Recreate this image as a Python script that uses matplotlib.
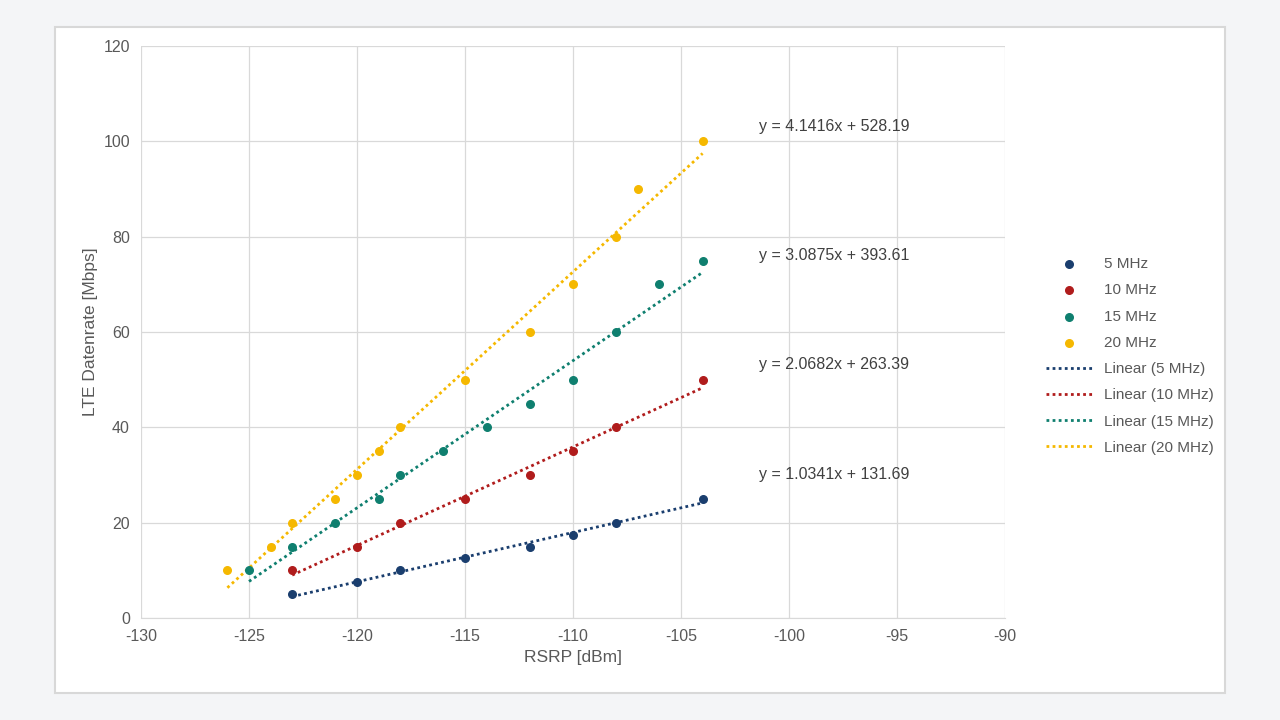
import matplotlib
matplotlib.use("Agg")
import matplotlib.pyplot as plt
import numpy as np
from matplotlib.patches import Rectangle

plt.rcParams["font.family"] = "Liberation Sans"
plt.rcParams["axes.unicode_minus"] = False

series = ["5 MHz", "10 MHz", "15 MHz", "20 MHz"]
colors = ["#1a3e6e", "#b01c1c", "#0f7f6f", "#f5b800"]
x5 = [-123, -120, -118, -115, -112, -110, -108, -104]
y5 = [5, 7.5, 10, 12.5, 15, 17.5, 20, 25]
x10 = [-123, -120, -118, -115, -112, -110, -108, -104]
y10 = [10, 15, 20, 25, 30, 35, 40, 50]
x15 = [-125, -123, -121, -119, -118, -116, -114, -112, -110, -108, -106, -104]
y15 = [10, 15, 20, 25, 30, 35, 40, 45, 50, 60, 70, 75]
x20 = [-126, -124, -123, -121, -120, -119, -118, -115, -112, -110, -108, -107, -104]
y20 = [10, 15, 20, 25, 30, 35, 40, 50, 60, 70, 80, 90, 100]
slopes = [1.0341, 2.0682, 3.0875, 4.1416]
intercepts = [131.69, 263.39, 393.61, 528.19]
eq_labels = ["y = 1.0341x + 131.69", "y = 2.0682x + 263.39",
             "y = 3.0875x + 393.61", "y = 4.1416x + 528.19"]
eq_y = [30, 53.1, 76.1, 103.2]

xs = [x5, x10, x15, x20]
ys = [y5, y10, y15, y20]

fig = plt.figure(figsize=(12.8, 7.2), dpi=100)
fig.patch.set_facecolor("#f4f5f7")
fig.add_artist(Rectangle((55/1280, 1-693/720), 1170/1280, 666/720, transform=fig.transFigure,
                         facecolor="white", edgecolor="#d8d8d8", lw=1.5, zorder=-10))
ax = fig.add_axes([141/1280, 1-618/720, 864/1280, 572/720])
ax.set_facecolor("white")
ax.set_xlim(-130, -90)
ax.set_ylim(0, 120)
ax.set_xticks(np.arange(-130, -89, 5))
ax.set_yticks(np.arange(0, 121, 20))
ax.grid(color="#d9d9d9", lw=0.9)
ax.set_axisbelow(True)
for s in ax.spines.values():
    s.set_visible(False)
ax.spines["bottom"].set_visible(True)
ax.spines["bottom"].set_color("#d9d9d9")
ax.tick_params(length=0, labelsize=11.5, colors="#595959", pad=8)
ax.set_xlabel("RSRP [dBm]", fontsize=12.5, color="#595959")
ax.set_ylabel("LTE Datenrate [Mbps]", fontsize=12.5, color="#595959")

handles_pts, handles_ln = [], []
for name, c, x, y in zip(series, colors, xs, ys):
    h = ax.scatter(x, y, color=c, s=30, zorder=3, label=name)
    handles_pts.append(h)
for name, c, x, m, b, lab, ey in zip(series, colors, xs, slopes, intercepts, eq_labels, eq_y):
    xx = np.array([min(x), max(x)])
    l, = ax.plot(xx, m*xx + b, ls=(0, (1, 1.2)), color=c, lw=2, label=f"Linear ({name})")
    handles_ln.append(l)
    ax.text(-101.4, ey, lab, fontsize=11.5, color="#404040", va="center")

fig.legend(handles_pts + handles_ln, [h.get_label() for h in handles_pts + handles_ln],
           loc="center left", bbox_to_anchor=(1032/1280, 1-356/720), frameon=False,
           fontsize=11, labelcolor="#595959", handlelength=3, labelspacing=0.8)
fig.savefig("out.png", dpi=100)
